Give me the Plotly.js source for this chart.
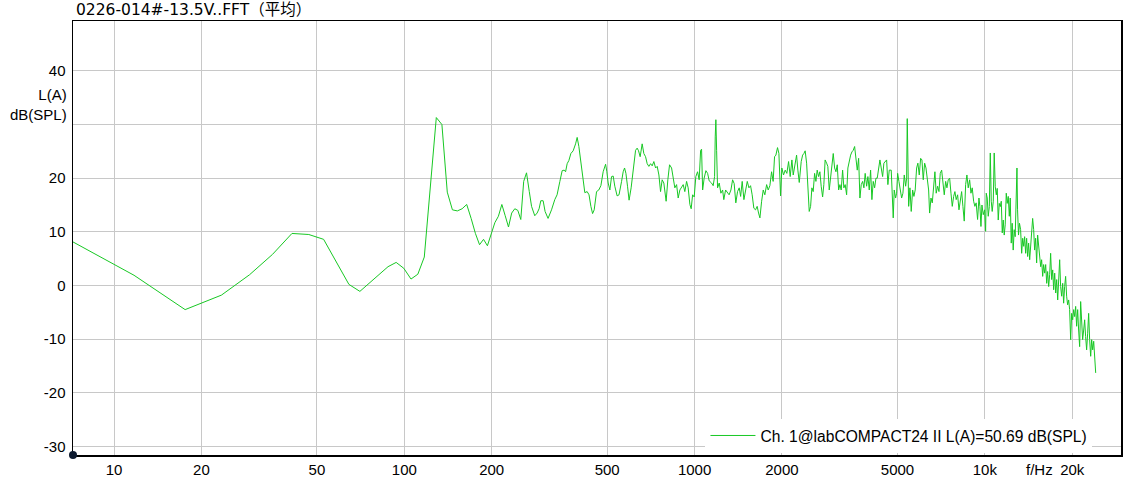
<!DOCTYPE html>
<html>
<head>
<meta charset="utf-8">
<script src="https://cdn.plot.ly/plotly-3.0.1.min.js"></script>
<style>
html,body{margin:0;padding:0;background:#fff;}
#chart{width:1123px;height:488px;}
</style>
</head>
<body>
<div id="chart"></div>
<script>
// ---- data ----
const chartTitle = '0226-014#-13.5V..FFT（平均）';
const seriesName = 'Ch. 1@labCOMPACT24 II L(A)=50.69 dB(SPL)';
const xTickVals = [10, 20, 50, 100, 200, 500, 1000, 2000, 5000, 10000, 20000];
const xTickText = ['10', '20', '50', '100', '200', '500', '1000', '2000', '5000', '10k', '20k'];
const yTickVals = [-30, -20, -10, 0, 10, 20, 30, 40];
const yTickText = ['-30', '-20', '-10', '0', '10', '20', '', '40'];

const freqLow = [5.86, 11.72, 17.58, 23.44, 29.3, 35.16, 41.02, 46.88, 52.73, 58.59, 64.45, 70.31, 76.17, 82.03, 87.89, 93.75, 99.61, 105.47, 111.33, 117.19, 123.05, 128.91, 134.77, 140.63, 146.48, 152.34, 158.2, 164.06, 169.92, 175.78, 181.64, 187.5, 193.36, 199.22, 205.08, 210.94, 216.8, 222.66, 228.52, 234.38, 240.23, 246.09, 251.95, 257.81, 263.67, 269.53];
const dbLow = [10.8, 1.9, -4.5, -1.8, 2.0, 5.8, 9.7, 9.5, 8.6, 4.3, 0.2, -1.1, 0.6, 2.1, 3.5, 4.3, 3.2, 1.2, 2.1, 5.3, 19.0, 31.3, 30.0, 17.4, 14.1, 13.9, 14.3, 15.1, 12.5, 9.7, 7.6, 8.6, 7.4, 9.5, 11.7, 12.9, 15.1, 13.0, 10.9, 13.5, 14.3, 14.0, 12.3, 19.4, 21.0, 17.5];

const freqMid = [274.4, 281.5, 286.8, 291.3, 295.3, 300.8, 305.5, 312.8, 321.5, 329.9, 336.0, 343.5, 349.8, 355.4, 359.4, 364.0, 369.0, 374.8, 381.7, 389.1, 394.0, 399.4, 405.8, 413.3, 418.7, 426.5, 432.9, 439.3, 445.3, 451.0, 459.5, 467.7, 475.6, 484.3, 493.7, 498.7, 503.9, 510.7, 517.6, 524.3, 531.1, 541.0, 549.2, 560.4, 567.6, 573.9, 580.0, 587.5, 594.8, 604.6, 614.3, 626.2, 634.1, 641.2, 649.5, 659.8, 668.6, 677.9, 686.6, 695.9, 705.4, 714.4, 723.9, 734.0, 743.4, 753.5, 763.5, 773.3, 783.6, 798.0, 808.9, 820.0, 833.3, 844.0, 855.0, 867.0, 878.0, 889.9, 902.0, 913.6, 925.5, 938.5, 950.4, 963.4, 973.4, 984.4, 996.9, 1010, 1024, 1037, 1049, 1057, 1066, 1079, 1094, 1109, 1123];
const dbMid = [14.75, 13.0, 13.5, 14.3, 15.8, 15.8, 13.8, 12.5, 14.1, 16.0, 16.9, 19.4, 21.4, 21.5, 21.2, 22.7, 23.3, 24.6, 25.1, 26.4, 27.6, 25.9, 22.8, 19.4, 17.3, 17.5, 16.9, 14.75, 13.4, 14.1, 17.5, 17.8, 18.6, 21.2, 22.6, 21.2, 19.1, 17.8, 20.3, 20.4, 18.5, 16.7, 16.9, 19.4, 21.2, 21.9, 20.9, 18.5, 15.9, 18.2, 21.5, 25.2, 25.6, 25.1, 24.0, 26.4, 24.6, 24.0, 22.7, 22.2, 22.7, 22.3, 23.1, 21.9, 22.2, 20.6, 17.5, 19.7, 19.1, 15.7, 19.7, 22.5, 21.9, 19.7, 18.2, 18.8, 16.3, 17.8, 18.2, 18.8, 17.5, 19.4, 18.2, 15.1, 14.3, 16.9, 16.5, 20.3, 21.2, 19.7, 25.2, 25.4, 17.8, 20.0, 21.4, 20.9, 19.5];

const freqHigh = [1144, 1159, 1172, 1178, 1184, 1191, 1200, 1216, 1232, 1249, 1261, 1279, 1298, 1315, 1334, 1352, 1369, 1387, 1406, 1425, 1441, 1459, 1479, 1499, 1519, 1539, 1559, 1579, 1600, 1622, 1643, 1661, 1679, 1702, 1724, 1746, 1771, 1793, 1817, 1842, 1865, 1886, 1906, 1931, 1952, 1978, 1998, 2025, 2052, 2079, 2108, 2135, 2164, 2187, 2215, 2246, 2269, 2294, 2330, 2356, 2380, 2404, 2432, 2457, 2483, 2510, 2536, 2562, 2591, 2618, 2645, 2674, 2702, 2730, 2761, 2788, 2817, 2850, 2878, 2910, 2942, 2973, 3004, 3037, 3069, 3101, 3135, 3167, 3200, 3236, 3268, 3302, 3340, 3374, 3410, 3448, 3484, 3520, 3559, 3597, 3634, 3674, 3712, 3751, 3793, 3831, 3870, 3915, 3954, 3997, 4040, 4082, 4125, 4171, 4215, 4258, 4305, 4350, 4395, 4445, 4489, 4536, 4588, 4634, 4684];
const dbHigh = [19.1, 18.6, 20.3, 27.7, 30.9, 25.2, 18.2, 19.1, 17.2, 17.8, 16.0, 17.8, 17.2, 16.9, 17.8, 19.7, 19.0, 15.4, 17.5, 18.2, 16.6, 19.4, 16.0, 17.8, 19.4, 18.2, 18.6, 16.9, 14.4, 14.1, 14.75, 13.5, 12.6, 15.7, 17.8, 16.9, 18.8, 17.8, 18.6, 21.2, 19.4, 24.0, 24.3, 25.7, 24.6, 16.7, 21.9, 20.6, 21.5, 20.9, 23.1, 20.3, 23.4, 20.6, 22.8, 24.3, 21.5, 19.2, 23.1, 24.3, 24.6, 25.1, 22.8, 17.2, 13.8, 14.75, 18.2, 17.5, 20.9, 19.4, 21.5, 20.3, 21.2, 18.5, 16.5, 18.8, 23.4, 22.8, 22.2, 17.8, 20.6, 21.9, 24.6, 21.9, 21.2, 22.5, 17.8, 18.8, 17.8, 21.5, 18.2, 18.8, 16.9, 21.9, 23.4, 24.3, 24.9, 25.2, 25.9, 24.0, 21.5, 23.7, 16.3, 18.8, 19.4, 18.2, 20.9, 18.5, 20.3, 17.8, 21.5, 16.0, 19.4, 18.2, 20.0, 20.0, 22.2, 23.4, 21.9, 20.3, 22.8, 23.1, 23.4, 18.8, 21.5];

const freqTreble = [4758, 4796, 4834, 4873, 4927, 4966, 5006, 5058, 5111, 5168, 5221, 5276, 5335, 5377, 5403, 5432, 5464, 5519, 5576, 5639, 5696, 5755, 5820, 5879, 5943, 6008, 6071, 6134, 6202, 6268, 6332, 6402, 6451, 6522, 6589, 6662, 6729, 6798, 6875, 6949, 7020, 7098, 7171, 7246, 7327, 7402, 7479, 7563, 7643, 7722, 7807, 7885, 7966, 8057, 8144, 8226, 8318, 8403, 8491, 8586, 8674, 8764, 8862, 8955, 9047, 9148, 9239, 9334, 9440, 9542];
const dbTreble = [21.5, 16.0, 12.6, 17.8, 16.3, 17.2, 20.9, 19.4, 18.2, 16.3, 17.2, 20.6, 18.5, 20.0, 31.1, 25.2, 14.75, 18.2, 13.8, 17.8, 16.6, 17.8, 21.9, 22.8, 20.6, 23.7, 23.4, 19.7, 22.8, 21.9, 19.7, 17.8, 13.5, 16.3, 15.4, 18.5, 21.2, 17.2, 18.5, 17.5, 20.9, 21.5, 18.5, 16.9, 19.4, 18.2, 19.7, 20.0, 17.2, 14.75, 16.6, 17.5, 16.0, 16.9, 14.1, 16.3, 17.5, 14.75, 12.0, 18.8, 20.6, 18.2, 19.7, 17.2, 18.2, 15.7, 14.75, 15.4, 12.3, 16.3];

const freqTop = [9617, 9694, 9771, 9873, 9982, 10060, 10110, 10190, 10270, 10360, 10440, 10520, 10600, 10690, 10770, 10860, 10950, 11030, 11120, 11210, 11300, 11390, 11480, 11570, 11660, 11750, 11850, 11940, 12040, 12140, 12230, 12330, 12420, 12520, 12620, 12720, 12830, 12900, 12960, 13060, 13160, 13280, 13390, 13500, 13610, 13710, 13820, 13930, 14040, 14150, 14270, 14380, 14490, 14610, 14730, 14840, 14960, 15080, 15200, 15320, 15440, 15570, 15690, 15820, 15940, 16070, 16200, 16330, 16450, 16590, 16720, 16850, 16990, 17130, 17260, 17400, 17540, 17680, 17820, 17960, 18100, 18240, 18390, 18540, 18680, 18830, 18980, 19130, 19280, 19440, 19590, 19750, 19910, 20070, 20230, 20390, 20550, 20710, 20880, 21040, 21210, 21380, 21550, 21720, 21900, 22070, 22240, 22420, 22600, 22780, 22960, 23150, 23330, 23520, 23710, 23900, 24090];
const dbTop = [14.7, 11.0, 15.0, 13.2, 14.1, 10.1, 17.2, 16.3, 12.9, 14.7, 24.7, 15.7, 13.8, 15.7, 24.7, 18.4, 16.9, 18.1, 12.2, 15.3, 14.7, 15.7, 9.8, 12.2, 9.4, 11.3, 17.2, 15.3, 16.6, 12.9, 16.3, 7.9, 11.6, 6.6, 10.4, 9.1, 14.7, 21.9, 14.1, 9.4, 11.6, 10.4, 6.0, 8.8, 7.3, 9.1, 6.0, 8.8, 5.4, 7.9, 4.8, 7.3, 8.5, 12.5, 10.4, 6.6, 8.8, 4.2, 9.4, 7.3, 5.7, 3.5, 4.8, 1.7, 3.9, 2.3, 3.9, 0.4, 2.6, -0.2, 2.0, 6.0, 1.1, 2.9, -0.8, 2.3, -1.4, 1.1, -2.7, 2.3, 4.8, -0.2, -2.0, 0.4, -3.3, -0.2, 1.7, -2.0, -3.6, -2.7, -4.5, -10.1, -5.2, -6.4, -4.5, -5.8, -3.9, -7.6, -4.5, -8.3, -11.4, -3.0, -7.6, -10.1, -8.3, -6.4, -9.5, -12.0, -8.9, -5.2, -10.1, -13.2, -10.1, -12.0, -10.4, -13.9, -16.3];

// ---- build the trace ----
const freqAll = [].concat(freqLow, freqMid, freqHigh, freqTreble, freqTop);
const dbAll = [].concat(dbLow, dbMid, dbHigh, dbTreble, dbTop);

const FONT = 'Liberation Sans, Arial, Noto Sans CJK SC, sans-serif';
const TITLE_FONT = 'DejaVu Sans, Noto Sans CJK SC, sans-serif';
const GRID = '#c8c8c8';

const trace = {
  x: freqAll,
  y: dbAll,
  type: 'scatter',
  mode: 'lines',
  name: seriesName,
  line: {color: 'rgb(24,200,36)', width: 1},
  hoverinfo: 'x+y'
};

const layout = {
  width: 1123,
  height: 488,
  margin: {l: 73, r: 2, t: 21, b: 33, pad: 0},
  paper_bgcolor: '#ffffff',
  plot_bgcolor: '#ffffff',
  font: {family: FONT, size: 15, color: '#000000'},
  showlegend: true,
  legend: {
    x: 0.6035, xanchor: 'left', xref: 'paper',
    y: 0.005, yanchor: 'bottom', yref: 'paper',
    bgcolor: '#ffffff', borderwidth: 0,
    font: {family: FONT, size: 15.6, color: '#000000'},
    itemwidth: 45
  },
  xaxis: {
    type: 'log',
    range: [0.8587, 4.469],
    tickmode: 'array',
    tickvals: xTickVals,
    ticktext: xTickText,
    ticks: '',
    showgrid: true, gridcolor: GRID, gridwidth: 1,
    zeroline: false,
    showline: true, linecolor: '#000000', linewidth: 1.5, mirror: true,
    tickfont: {family: FONT, size: 15, color: '#000000'},
    ticklabelstandoff: 0,
    fixedrange: true
  },
  yaxis: {
    range: [-31.6, 49.3],
    tickmode: 'array',
    tickvals: yTickVals,
    ticktext: yTickText,
    ticks: '',
    showgrid: true, gridcolor: GRID, gridwidth: 1,
    zeroline: false,
    showline: true, linecolor: '#000000', linewidth: 1.5, mirror: true,
    tickfont: {family: FONT, size: 15, color: '#000000'},
    ticklabelstandoff: 3,
    fixedrange: true
  },
  annotations: [
    {
      text: chartTitle, xref: 'paper', yref: 'paper', x: 0, y: 1,
      xanchor: 'left', yanchor: 'middle', xshift: 1, yshift: 11,
      showarrow: false, font: {family: TITLE_FONT, size: 15.5, color: '#000000'}
    },
    {
      text: 'L(A)<br>dB(SPL)', xref: 'paper', yref: 'paper', x: 0, y: 0.8076,
      xanchor: 'right', yanchor: 'middle', xshift: -4, align: 'right',
      showarrow: false, font: {family: FONT, size: 15, color: '#000000'}
    },
    {
      text: 'f/Hz', xref: 'paper', yref: 'paper', x: 0.9227, y: 0,
      xanchor: 'center', yanchor: 'middle', yshift: -14,
      showarrow: false, font: {family: FONT, size: 15, color: '#000000'}
    }
  ],
  shapes: [
    {
      type: 'circle', xref: 'paper', yref: 'paper',
      xsizemode: 'pixel', ysizemode: 'pixel', xanchor: 0, yanchor: 0,
      x0: -4, x1: 4, y0: -4, y1: 4,
      fillcolor: '#0d1a30', line: {color: '#0d1a30', width: 0}, layer: 'above'
    }
  ]
};

Plotly.newPlot('chart', [trace], layout, {displayModeBar: false, staticPlot: true});
</script>
</body>
</html>
